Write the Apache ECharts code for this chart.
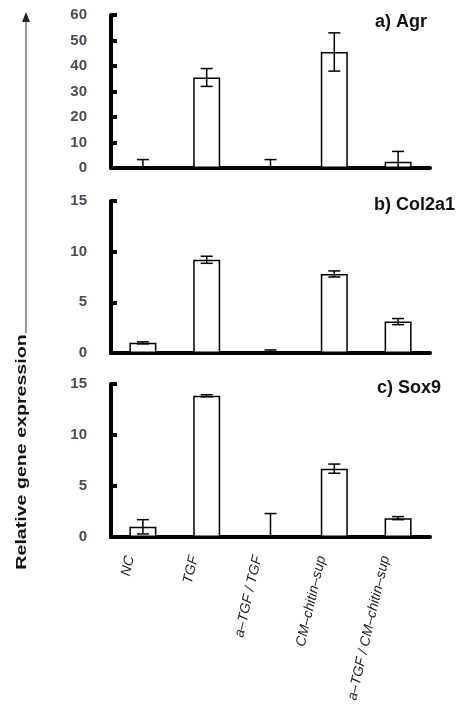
<!DOCTYPE html>
<html>
<head>
<meta charset="utf-8">
<style>
  html, body { margin: 0; padding: 0; background: #fff; }
  #main { width: 462px; height: 716px; }
</style>
<script src="https://cdn.jsdelivr.net/npm/echarts@6/dist/echarts.min.js"></script>
</head>
<body>
<div id="main"></div>
<script>
// categories (bottom panel labels)
var categories = ['NC', 'TGF', 'a\u2013TGF / TGF', 'CM\u2013chitin\u2013sup', 'a\u2013TGF / CM\u2013chitin\u2013sup'];

// a) Agr
var agrValues = [0.3, 35.5, 0.3, 45.5, 2.5];
var agrErrors = [3, 3.5, 3, 7.5, 4];
// b) Col2a1
var colValues = [1.0, 9.2, 0.2, 7.8, 3.1];
var colErrors = [0.1, 0.35, 0.1, 0.3, 0.3];
// c) Sox9
var soxValues = [1.0, 13.85, 0, 6.7, 1.85];
var soxErrors = [0.7, 0.1, 2.3, 0.45, 0.15];

var panelTitles = ['a) Agr', 'b) Col2a1', 'c) Sox9'];
var yMax = [60, 15, 15];
var yStep = [10, 5, 5];

var myChart = echarts.init(document.getElementById('main'));

var grids = [
    {left: 111, right: 32, top: 15, height: 153},
    {left: 111, right: 32, top: 201, height: 152},
    {left: 111, right: 32, top: 384, height: 153}
];

// 误差线
function errorSeries(idx, values, errors) {
    var data = values.map(function (v, i) {
        return [i, Math.max(0, v - errors[i]), v + errors[i]];
    });
    return {
        type: 'custom',
        xAxisIndex: idx,
        yAxisIndex: idx,
        z: 5,
        data: data,
        renderItem: function (params, api) {
            var lo = api.coord([api.value(0), api.value(1)]);
            var hi = api.coord([api.value(0), api.value(2)]);
            var half = 6;
            var st = {stroke: '#000', lineWidth: 1.5};
            return {
                type: 'group',
                children: [
                    {type: 'line', shape: {x1: hi[0], y1: hi[1], x2: lo[0], y2: lo[1]}, style: st},
                    {type: 'line', shape: {x1: hi[0] - half, y1: hi[1], x2: hi[0] + half, y2: hi[1]}, style: st},
                    {type: 'line', shape: {x1: lo[0] - half, y1: lo[1], x2: lo[0] + half, y2: lo[1]}, style: st}
                ]
            };
        }
    };
}

function barSeries(idx, values) {
    return {
        type: 'bar',
        xAxisIndex: idx,
        yAxisIndex: idx,
        barWidth: 27,
        data: values,
        itemStyle: {color: '#fff', borderColor: '#000', borderWidth: 1.5}
    };
}

var xAxes = [0, 1, 2].map(function (i) {
    return {
        type: 'category',
        gridIndex: i,
        data: categories,
        axisLine: {lineStyle: {color: '#000', width: 4}},
        axisTick: {show: false},
        axisLabel: i < 2 ? {show: false} : {
            rotate: 77,
            interval: 0,
            fontStyle: 'italic',
            fontFamily: 'Liberation Sans, Arial',
            fontSize: 14,
            color: '#222',
            margin: 22,
            verticalAlign: 'bottom',
            lineHeight: 26
        }
    };
});

var yAxes = [0, 1, 2].map(function (i) {
    return {
        type: 'value',
        gridIndex: i,
        min: 0,
        max: yMax[i],
        interval: yStep[i],
        splitLine: {show: false},
        axisLine: {show: true, lineStyle: {color: '#000', width: 4, cap: 'round'}},
        axisTick: {show: true, inside: true, length: 6, lineStyle: {color: '#000', width: 4}},
        axisLabel: {
            margin: 24,
            fontFamily: 'Liberation Sans, Arial',
            fontWeight: 'bold',
            fontSize: 15,
            color: '#4a4a5e'
        }
    };
});

var option = {
    animation: false,
    backgroundColor: '#fff',
    title: [
        {text: panelTitles[0], right: 35, top: 13},
        {text: panelTitles[1], right: 7, top: 196},
        {text: panelTitles[2], right: 21, top: 379}
    ].map(function (t) {
        t.textStyle = {fontFamily: 'Liberation Sans, Arial', fontWeight: 'bold', fontSize: 18, color: '#111'};
        t.padding = 0;
        return t;
    }),
    grid: grids,
    xAxis: xAxes,
    yAxis: yAxes,
    graphic: [
        {type: 'line', shape: {x1: 26, y1: 333, x2: 26, y2: 20}, style: {stroke: '#777', lineWidth: 1.5}},
        {type: 'polygon', shape: {points: [[26, 12], [22, 22], [30, 22]]}, style: {fill: '#222'}},
        {
            type: 'text',
            x: 22,
            y: 452,
            rotation: Math.PI / 2,
            scaleX: 1.4,
            style: {
                text: 'Relative gene expression',
                font: 'bold 14px "Liberation Sans", Arial',
                fill: '#111',
                align: 'center',
                verticalAlign: 'middle'
            }
        }
    ],
    series: [
        barSeries(0, agrValues), errorSeries(0, agrValues, agrErrors),
        barSeries(1, colValues), errorSeries(1, colValues, colErrors),
        barSeries(2, soxValues), errorSeries(2, soxValues, soxErrors)
    ]
};
myChart.setOption(option);
</script>
</body>
</html>
